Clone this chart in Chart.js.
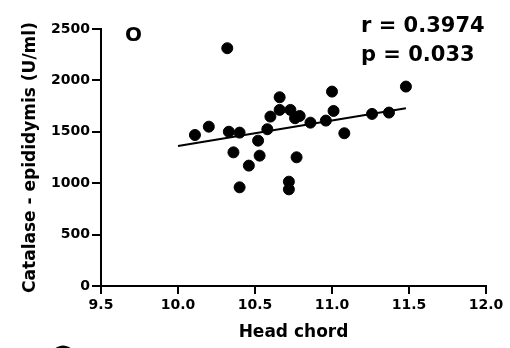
<!DOCTYPE html>
<html>
<head>
<meta charset="utf-8">
<script src="https://cdn.jsdelivr.net/npm/chart.js@4/dist/chart.umd.min.js"></script>
<style>
  html, body { margin: 0; padding: 0; background: #fff; }
  #wrap { width: 510px; height: 348px; }
</style>
</head>
<body>
<div id="wrap"><canvas id="chart"></canvas></div>
<script>
// values
var headChord = [10.11, 10.20, 10.32, 10.33, 10.40, 10.36, 10.40, 10.46, 10.52, 10.53,
                 10.58, 10.60, 10.66, 10.66, 10.73, 10.76, 10.79, 10.77, 10.72, 10.72,
                 10.86, 10.96, 11.00, 11.01, 11.08, 11.26, 11.37, 11.48];
var catalase = [1469, 1550, 2313, 1501, 1492, 1300, 960, 1171, 1414, 1268,
                1525, 1648, 1713, 1836, 1713, 1632, 1654, 1252, 1015, 940,
                1589, 1609, 1891, 1703, 1486, 1674, 1687, 1940];
// regression line end points
var fitX = [10.0, 11.48];
var fitY = [1362, 1729];
var xTicks = [9.5, 10.0, 10.5, 11.0, 11.5, 12.0];
var yTicks = [0, 500, 1000, 1500, 2000, 2500];

var FONT = "'DejaVu Sans', sans-serif";

var points = headChord.map(function (x, i) { return { x: x, y: catalase[i] }; });
var fit = fitX.map(function (x, i) { return { x: x, y: fitY[i] }; });

var labels = {
    id: 'labels',
    afterDraw: function (chart) {
        var c = chart.ctx;
        c.save();
        c.fillStyle = '#000';
        c.textBaseline = 'alphabetic';
        c.textAlign = 'left';
        c.font = 'bold 21px ' + FONT;
        c.fillText('r = 0.3974', 361, 32);
        c.fillText('p = 0.033', 361, 61);
        c.font = 'bold 20px ' + FONT;
        c.fillText('O', 125, 41);
        // bit of the next panel's label
        c.translate(62, 348);
        c.rotate(Math.PI / 2);
        c.font = 'bold 18px ' + FONT;
        c.textAlign = 'center';
        c.textBaseline = 'middle';
        c.fillText('(', 0, 0);
        c.restore();
    }
};

window.onload = function () {
    var ctx = document.getElementById('chart');
    new Chart(ctx, {
        type: 'scatter',
        data: {
            datasets: [
            {
                data: points,
                backgroundColor: '#000',
                borderColor: '#000',
                pointRadius: 5.5,
                pointHoverRadius: 5.5
            },
            {
                type: 'line',
                data: fit,
                borderColor: '#000',
                borderWidth: 2,
                pointRadius: 0,
                fill: false
            }
            ]
        },
        options: {
            responsive: true,
            maintainAspectRatio: false,
            animation: false,
            events: [],
            layout: { padding: { left: 20, top: 29, right: 24, bottom: 5 } },
            plugins: { legend: { display: false }, tooltip: { enabled: false } },
            scales: {
                x: {
                    type: 'linear',
                    min: 9.5,
                    max: 12.0,
                    afterFit: function (s) { s.height = 57; },
                    afterBuildTicks: function (s) { s.ticks = xTicks.map(function (v) { return { value: v }; }); },
                    border: { display: true, color: '#000', width: 2 },
                    grid: { display: true, drawOnChartArea: false, drawTicks: true, tickLength: 8, color: '#000', lineWidth: 2 },
                    ticks: {
                        color: '#000',
                        padding: 3,
                        font: { family: FONT, size: 14, weight: 'bold' },
                        callback: function (v) { return v.toFixed(1); }
                    },
                    title: {
                        display: true,
                        text: 'Head chord',
                        color: '#000',
                        padding: 0,
                        font: { family: FONT, size: 17, weight: 'bold' }
                    }
                },
                y: {
                    min: 0,
                    max: 2500,
                    afterFit: function (s) { s.width = 81; },
                    afterBuildTicks: function (s) { s.ticks = yTicks.map(function (v) { return { value: v }; }); },
                    border: { display: true, color: '#000', width: 2 },
                    grid: { display: true, drawOnChartArea: false, drawTicks: true, tickLength: 9, color: '#000', lineWidth: 2 },
                    ticks: {
                        color: '#000',
                        padding: 2,
                        font: { family: FONT, size: 14, weight: 'bold' },
                        callback: function (v) { return String(v); }
                    },
                    title: {
                        display: true,
                        text: 'Catalase - epididymis (U/ml)',
                        color: '#000',
                        padding: 0,
                        font: { family: FONT, size: 17, weight: 'bold' }
                    }
                }
            }
        },
        plugins: [labels]
    });
};
</script>
</body>
</html>
